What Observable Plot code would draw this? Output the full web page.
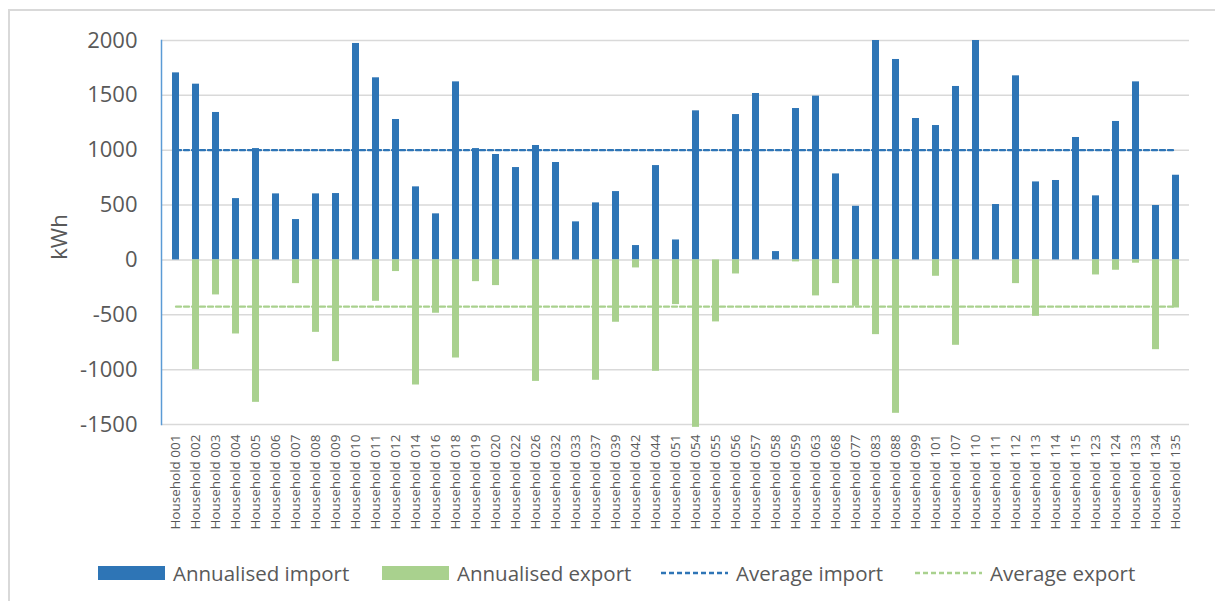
<!DOCTYPE html>
<html>
<head>
<meta charset="utf-8">
<script src="https://cdn.jsdelivr.net/npm/d3@7"></script>
<script src="https://cdn.jsdelivr.net/npm/@observablehq/plot@0.6"></script>
<style>
  html, body { margin: 0; padding: 0; background: #fff; }
  body { width: 1215px; height: 601px; overflow: hidden; position: relative; font-family: "Open Sans", "Noto Sans", sans-serif; color: #595959; }
  #border { position: absolute; left: 8px; top: 9px; width: 1400px; height: 800px; border: 2px solid #d9d9d9; box-sizing: border-box; }
  #chart { position: absolute; left: 0; top: 0; }
  #ylabel { position: absolute; left: 58px; top: 237px; transform: translate(-50%, -50%) rotate(-90deg); font-size: 22px; white-space: nowrap; }
  #legend { position: absolute; top: 560px; left: 0; width: 1215px; height: 26px; font-size: 20.5px; white-space: nowrap; }
  .item { position: absolute; top: 0; display: flex; align-items: center; height: 26px; }
  .item svg { margin-right: 8px; }
</style>
</head>
<body>
<div id="border"></div>
<div id="chart"></div>
<div id="ylabel">kWh</div>
<div id="legend"></div>
<script>
const households = ["Household 001","Household 002","Household 003","Household 004","Household 005","Household 006","Household 007","Household 008","Household 009","Household 010","Household 011","Household 012","Household 014","Household 016","Household 018","Household 019","Household 020","Household 022","Household 026","Household 032","Household 033","Household 037","Household 039","Household 042","Household 044","Household 051","Household 054","Household 055","Household 056","Household 057","Household 058","Household 059","Household 063","Household 068","Household 077","Household 083","Household 088","Household 099","Household 101","Household 107","Household 110","Household 111","Household 112","Household 113","Household 114","Household 115","Household 123","Household 124","Household 133","Household 134","Household 135"];
const importKWh = [1705,1602,1344,559,1015,602,368,602,605,1973,1660,1280,666,420,1623,1015,961,842,1043,888,347,520,623,131,860,182,1359,0,1325,1517,76,1380,1493,784,489,2000,1827,1289,1225,1581,2000,505,1678,711,724,1116,584,1262,1623,496,772];
const exportKWh = [0,-1000,-319,-675,-1298,0,-216,-660,-927,0,-377,-106,-1140,-486,-894,-198,-234,0,-1107,0,0,-1097,-568,-73,-1015,-407,-1526,-565,-128,0,0,-18,-328,-216,-423,-681,-1398,0,-149,-778,0,0,-216,-514,0,0,-137,-94,-30,-818,-438];
const averageImport = 1000;
const averageExport = -426;
const yTicks = [-1500,-1000,-500,0,500,1000,1500,2000];
const seriesNames = ["Annualised import","Annualised export","Average import","Average export"];
const colors = {import: "#2e75b6", export: "#a9d18e"};

const rows = households.map((h, i) => ({household: h, imp: importKWh[i], exp: exportKWh[i]}));

const chart = Plot.plot({
  width: 1215,
  height: 545,
  marginTop: 40,
  marginBottom: 121,
  marginLeft: 161,
  marginRight: 26,
  style: {fontFamily: "'Open Sans', 'Noto Sans', sans-serif", color: "#595959", background: "transparent"},
  x: {domain: households, paddingInner: 0.65, paddingOuter: 0.325, label: null},
  y: {domain: [-1500, 2000], ticks: yTicks, label: null},
  marks: [
    Plot.gridY(yTicks, {stroke: "#d9d9d9", strokeOpacity: 1, strokeWidth: 1.5}),
    Plot.frame({anchor: "left", stroke: "#5b9bd5", strokeWidth: 1.5}),
    Plot.barY(rows, {x: "household", y: "imp", fill: colors.import}),
    Plot.barY(rows, {x: "household", y: "exp", fill: colors.export}),
    Plot.lineY(households, {x: d => d, y: () => averageImport, stroke: colors.import, strokeWidth: 2.25, strokeDasharray: "5,3"}),
    Plot.lineY(households, {x: d => d, y: () => averageExport, stroke: colors.export, strokeWidth: 2.25, strokeDasharray: "5,3"}),
    Plot.axisY(yTicks, {tickSize: 0, tickPadding: 24, fontSize: 22, tickFormat: d => String(d), label: null}),
    Plot.axisX({tickRotate: -90, tickSize: 0, tickPadding: 10, fontSize: 13.5, label: null})
  ]
});
document.getElementById("chart").appendChild(chart);

const legend = document.getElementById("legend");
const legendStyles = [
  {type: "rect", color: colors.import, left: 98},
  {type: "rect", color: colors.export, left: 382},
  {type: "dash", color: colors.import, left: 661},
  {type: "dash", color: colors.export, left: 915}
];
seriesNames.forEach((name, i) => {
  const item = document.createElement("div");
  item.className = "item";
  const s = legendStyles[i];
  item.style.left = s.left + "px";
  const sw = s.type === "rect"
    ? `<svg width="67" height="14"><rect width="67" height="14" fill="${s.color}"/></svg>`
    : `<svg width="67" height="14"><line x1="0" x2="67" y1="7" y2="7" stroke="${s.color}" stroke-width="2.5" stroke-dasharray="5,3"/></svg>`;
  item.innerHTML = sw + `<span>${name}</span>`;
  legend.appendChild(item);
});
</script>
</body>
</html>
